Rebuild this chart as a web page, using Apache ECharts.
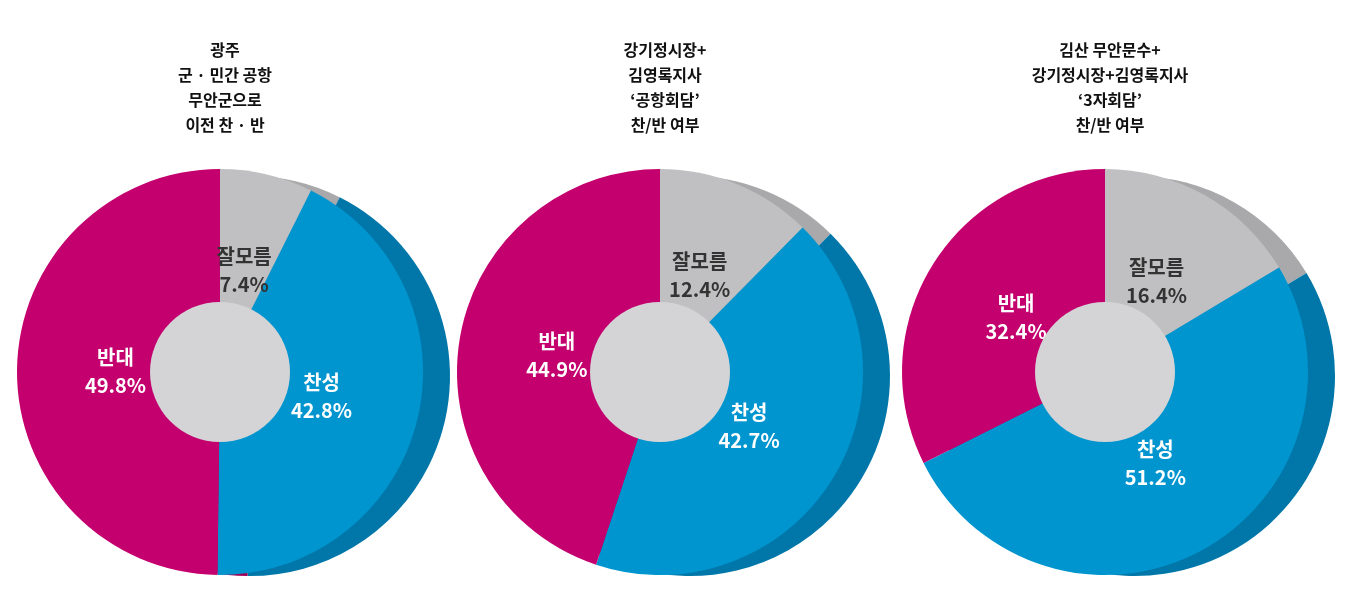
<!DOCTYPE html>
<html><head><meta charset="utf-8">
<script src="https://cdn.jsdelivr.net/npm/echarts@6/dist/echarts.min.js"></script>
<style>html,body{margin:0;background:#fff}#c{width:1361px;height:610px}</style>
</head><body><div id="c"></div>
<script>
const categories = ['잘모름','찬성','반대'];
const values1 = [7.4, 42.8, 49.8];
const values2 = [12.4, 42.7, 44.9];
const values3 = [16.4, 51.2, 32.4];
const titles = ['광주\n군 · 민간 공항\n무안군으로\n이전 찬 · 반','강기정시장+\n김영록지사\n‘공항회담’\n찬/반 여부','김산 무안문수+\n강기정시장+김영록지사\n‘3자회담’\n찬/반 여부'];
const titleTops = [32, 32, 32];
const centers = [220, 660, 1105];
const frontColors = ['#c0c0c2','#0095cf','#c4006e'];
const backColors = ['#a9a9ab','#0077a8','#9e0058'];
const all = [values1, values2, values3];
const series = [];
all.forEach((vals, i) => {
  const data = categories.map((c, k) => ({name: c, value: vals[k]}));
  series.push({type:'pie', silent:true, center:[centers[i]+30, 376], radius:[0,200], startAngle:90,
    label:{show:false}, labelLine:{show:false}, z:1,
    itemStyle:{color: p => backColors[p.dataIndex]}, data});
  series.push({type:'pie', silent:true, center:[centers[i], 372], radius:[0,203], startAngle:90, z:2,
    itemStyle:{color: p => frontColors[p.dataIndex]},
    label:{show:true, position:'inner', formatter:'{b}\n{c}%', fontSize:20, fontWeight:'bold', lineHeight:28,
      fontFamily:'Noto Sans CJK KR', color:'#fff'},
    labelLine:{show:false},
    data: data.map((d,k)=> k===0 ? {...d, label:{color:'#333'}} : d)});
  series.push({type:'pie', silent:true, center:[centers[i], 372], radius:[0,70], z:3,
    label:{show:false}, itemStyle:{color:'#d4d4d6'}, data:[{value:1,name:''}]});
});
const chart = echarts.init(document.getElementById('c'));
chart.setOption({
  animation:false,
  title: titles.map((t,i)=>({text:t, left:centers[i], top:titleTops[i], textAlign:'center',
    textStyle:{fontSize:16, fontWeight:'bold', lineHeight:25, color:'#111', fontFamily:'Noto Sans CJK KR'}})),
  series
});
</script></body></html>
